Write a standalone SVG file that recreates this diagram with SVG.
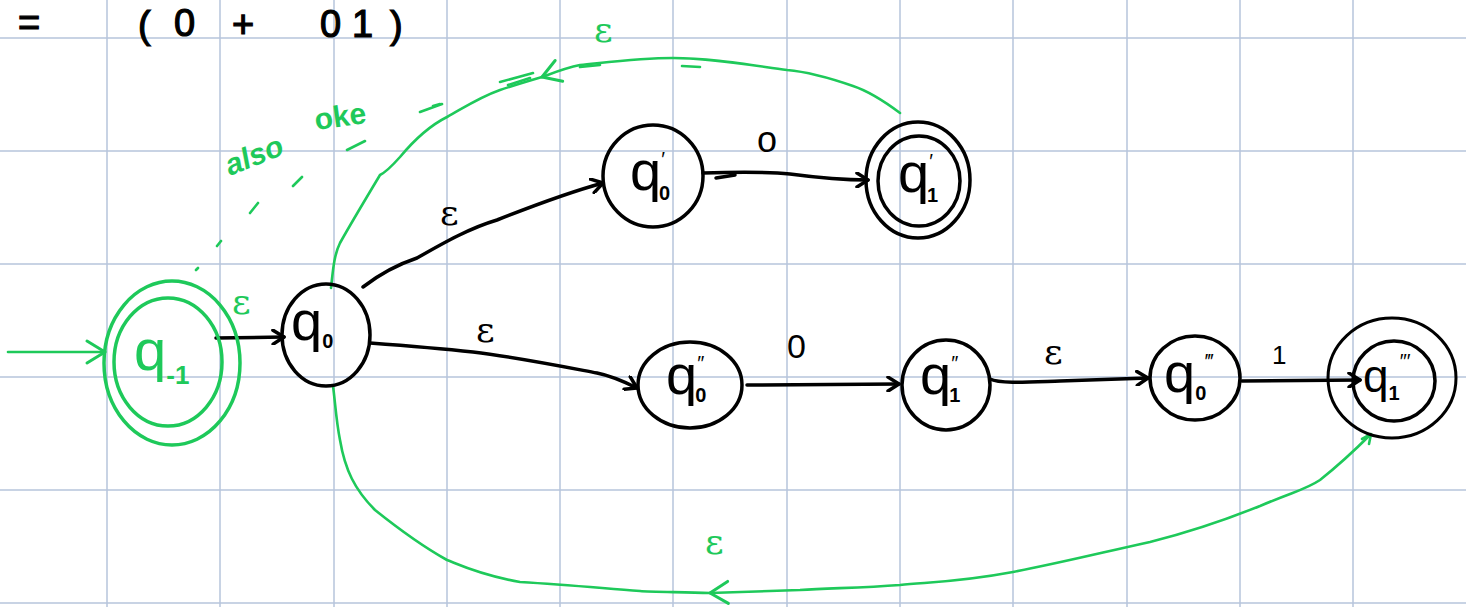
<svg xmlns="http://www.w3.org/2000/svg" width="1466" height="607" viewBox="0 0 1466 607">
<defs>
<style>
.grid{stroke:#b7c5dc;stroke-width:1.5}
.bk{fill:none;stroke:#000;stroke-width:3.5;stroke-linecap:round;stroke-linejoin:round}
.gr{fill:none;stroke:#1ec95a;stroke-width:2.6;stroke-linecap:round;stroke-linejoin:round}
.grt{fill:none;stroke:#1ec95a;stroke-width:3.5;stroke-linecap:round;stroke-linejoin:round}
.lbl{font-family:"Liberation Sans",Arial,sans-serif;fill:#000}
.q{font-size:56px}
.s{font-size:20px;font-weight:bold}
.p{font-size:20px}
.e{font-family:"DejaVu Serif","Liberation Serif",serif;font-size:36px;fill:#000}
.ge{fill:#1ec95a}
.frm{font-family:"Liberation Sans",Arial,sans-serif;font-size:38px;fill:#000;stroke:#000;stroke-width:1.2}
</style>
<marker id="ab" markerWidth="16" markerHeight="16" refX="13" refY="8" orient="auto" markerUnits="userSpaceOnUse">
<path d="M2,1 L13,8 L2,15" fill="none" stroke="#000" stroke-width="3.5" stroke-linecap="round" stroke-linejoin="round"/>
</marker>
<marker id="ag" markerWidth="28" markerHeight="28" refX="24" refY="14" orient="auto" markerUnits="userSpaceOnUse">
<path d="M6,3 L24,14 L6,25" fill="none" stroke="#1ec95a" stroke-width="3" stroke-linecap="round" stroke-linejoin="round"/>
</marker>
</defs>
<rect width="1466" height="607" fill="#fff"/>
<g id="grid">
<path class="grid" d="M107,0V607M220,0V607M334,0V607M447,0V607M560,0V607M673,0V607M787,0V607M900,0V607M1013,0V607M1127,0V607M1240,0V607M1353,0V607M0,38H1466M0,151H1466M0,264H1466M0,377H1466M0,490H1466M0,603H1466"/>
</g>
<g id="formula">
<text class="frm" x="18" y="36">=</text>
<text class="frm" x="138" y="38">(</text>
<text class="frm" x="174" y="36">0</text>
<text class="frm" x="232" y="37">+</text>
<text class="frm" x="320" y="37">0</text>
<text class="frm" x="352" y="37">1</text>
<text class="frm" x="390" y="38">)</text>
</g>
<g id="note">
<text x="230" y="176" transform="rotate(-22 230 176)" font-family="Liberation Sans,Arial,sans-serif" font-size="30" fill="#1ec95a" font-style="italic" font-weight="bold">also</text>
<text x="316" y="130" transform="rotate(-8 316 130)" font-family="Liberation Sans,Arial,sans-serif" font-size="30" font-weight="bold" fill="#1ec95a">oke</text>
<path class="gr" d="M347,150L365,141M293,186L302,177M250,213L258,203M217,246L221,241M196,270L198,268M420,112L442,104M500,82L533,73M508,85L530,78M682,66L700,67M580,67L600,65M433,106L440,104"/>
</g>
<g id="connectors">
<path class="gr" d="M8,352 L105,352" marker-end="url(#ag)"/>
<path class="bk" d="M216,338 L284,337" marker-end="url(#ab)"/>
<path class="bk" d="M363,287 C385,270 405,262 417,258 C445,242 470,228 497,220 C535,205 570,192 603,183" marker-end="url(#ab)"/>
<path class="bk" d="M370,343 C410,346 445,349 473,352 C515,357 560,366 597,373 C612,376 625,382 637,388" marker-end="url(#ab)"/>
<path class="bk" d="M703,173 C740,172 770,172 790,174 C820,178 845,180 868,180" marker-end="url(#ab)"/>
<path class="bk" d="M716,178 L735,175"/>
<path class="bk" d="M747,385 L899,384" marker-end="url(#ab)"/>
<path class="bk" d="M990,379 C1000,384 1030,382 1060,381 C1090,380 1120,379 1148,378" marker-end="url(#ab)"/>
<path class="bk" d="M1242,381 L1360,380" marker-end="url(#ab)"/>
<path class="gr" d="M900,113 C880,98 865,90 853,86 C830,78 810,72 787,70 C750,65 710,58 673,58 C640,58 610,62 580,65 C565,68 553,73 542,77"  marker-end="url(#ag)"/>
<path class="gr" d="M542,77 C525,82 512,86 500,90 C480,97 465,107 447,117 C425,128 410,145 400,157 C392,166 386,172 380,175 C365,200 350,225 340,243 C334,255 333,270 331,288"/>
<path class="gr" d="M1370,435 C1355,450 1335,468 1320,480 C1305,490 1295,491 1260,506 C1220,522 1190,532 1150,542 C1100,553 1060,563 1013,572 C960,582 930,582 900,585 C860,588 830,588 800,590 C770,591 740,592 710,593" marker-end="url(#ag)"/>
<path class="gr" d="M710,593 C680,592 650,592 640,591 C600,588 570,585 520,582 C480,575 460,565 447,560 C420,545 400,530 375,510 C355,490 345,470 340,440 C336,420 335,400 333,386"/>
<path class="gr" d="M1362,439 L1371,434 L1369,444"/>
</g>
<g id="labels">
<text class="e ge" x="232" y="314">ε</text>
<text class="e" x="440" y="225">ε</text>
<text class="e" x="476" y="342">ε</text>
<text class="e" x="1044" y="364">ε</text>
<text class="e ge" x="594" y="42">ε</text>
<text class="e ge" x="705" y="554">ε</text>
<text class="lbl" x="757" y="152" font-size="36">o</text>
<text class="lbl" x="787" y="358" font-size="34">0</text>
<text class="lbl" x="1272" y="364" font-size="26">1</text>
</g>
<g id="q_m1">
<ellipse class="grt" cx="172" cy="363" rx="68" ry="82"/>
<ellipse class="grt" cx="168" cy="362" rx="54" ry="64"/>
<text class="lbl" x="134" y="370" font-size="58" style="fill:#1ec95a">q<tspan font-size="26" font-weight="bold" dy="14">-1</tspan></text>
</g>
<g id="q0">
<ellipse class="bk" cx="326" cy="335" rx="44" ry="51"/>
<text class="lbl q" x="291" y="340">q<tspan class="s" dy="8">0</tspan></text>
</g>
<g id="q0p">
<ellipse class="bk" cx="653" cy="176" rx="50" ry="51"/>
<text class="lbl q" x="630" y="190">q<tspan class="p" dy="-24">′</tspan><tspan class="s" dx="-6" dy="34">0</tspan></text>
</g>
<g id="q1p">
<ellipse class="bk" cx="918" cy="180" rx="52" ry="58"/>
<ellipse class="bk" cx="919" cy="181" rx="41" ry="45"/>
<text class="lbl q" x="898" y="192">q<tspan class="p" dy="-24">′</tspan><tspan class="s" dx="-6" dy="34">1</tspan></text>
</g>
<g id="q0pp">
<ellipse class="bk" cx="690" cy="385" rx="52" ry="43"/>
<text class="lbl q" x="666" y="394">q<tspan class="p" dy="-24">″</tspan><tspan class="s" dx="-9" dy="32">0</tspan></text>
</g>
<g id="q1pp">
<ellipse class="bk" cx="946" cy="385" rx="44" ry="45"/>
<text class="lbl q" x="920" y="394">q<tspan class="p" dy="-24">″</tspan><tspan class="s" dx="-9" dy="32">1</tspan></text>
</g>
<g id="q0ppp">
<ellipse class="bk" cx="1195" cy="378" rx="45" ry="42"/>
<text class="lbl q" x="1164" y="392">q<tspan class="s" dy="8">0</tspan><tspan class="p" dy="-32">‴</tspan></text>
</g>
<g id="q1ppp">
<ellipse class="bk" cx="1392" cy="378" rx="64" ry="60" style="stroke-width:3"/>
<ellipse class="bk" cx="1394" cy="381" rx="41" ry="40"/>
<text class="lbl" x="1363" y="392" font-size="46">q<tspan class="s" dy="8">1</tspan><tspan class="p" dy="-32">″′</tspan></text>
</g>
</svg>
